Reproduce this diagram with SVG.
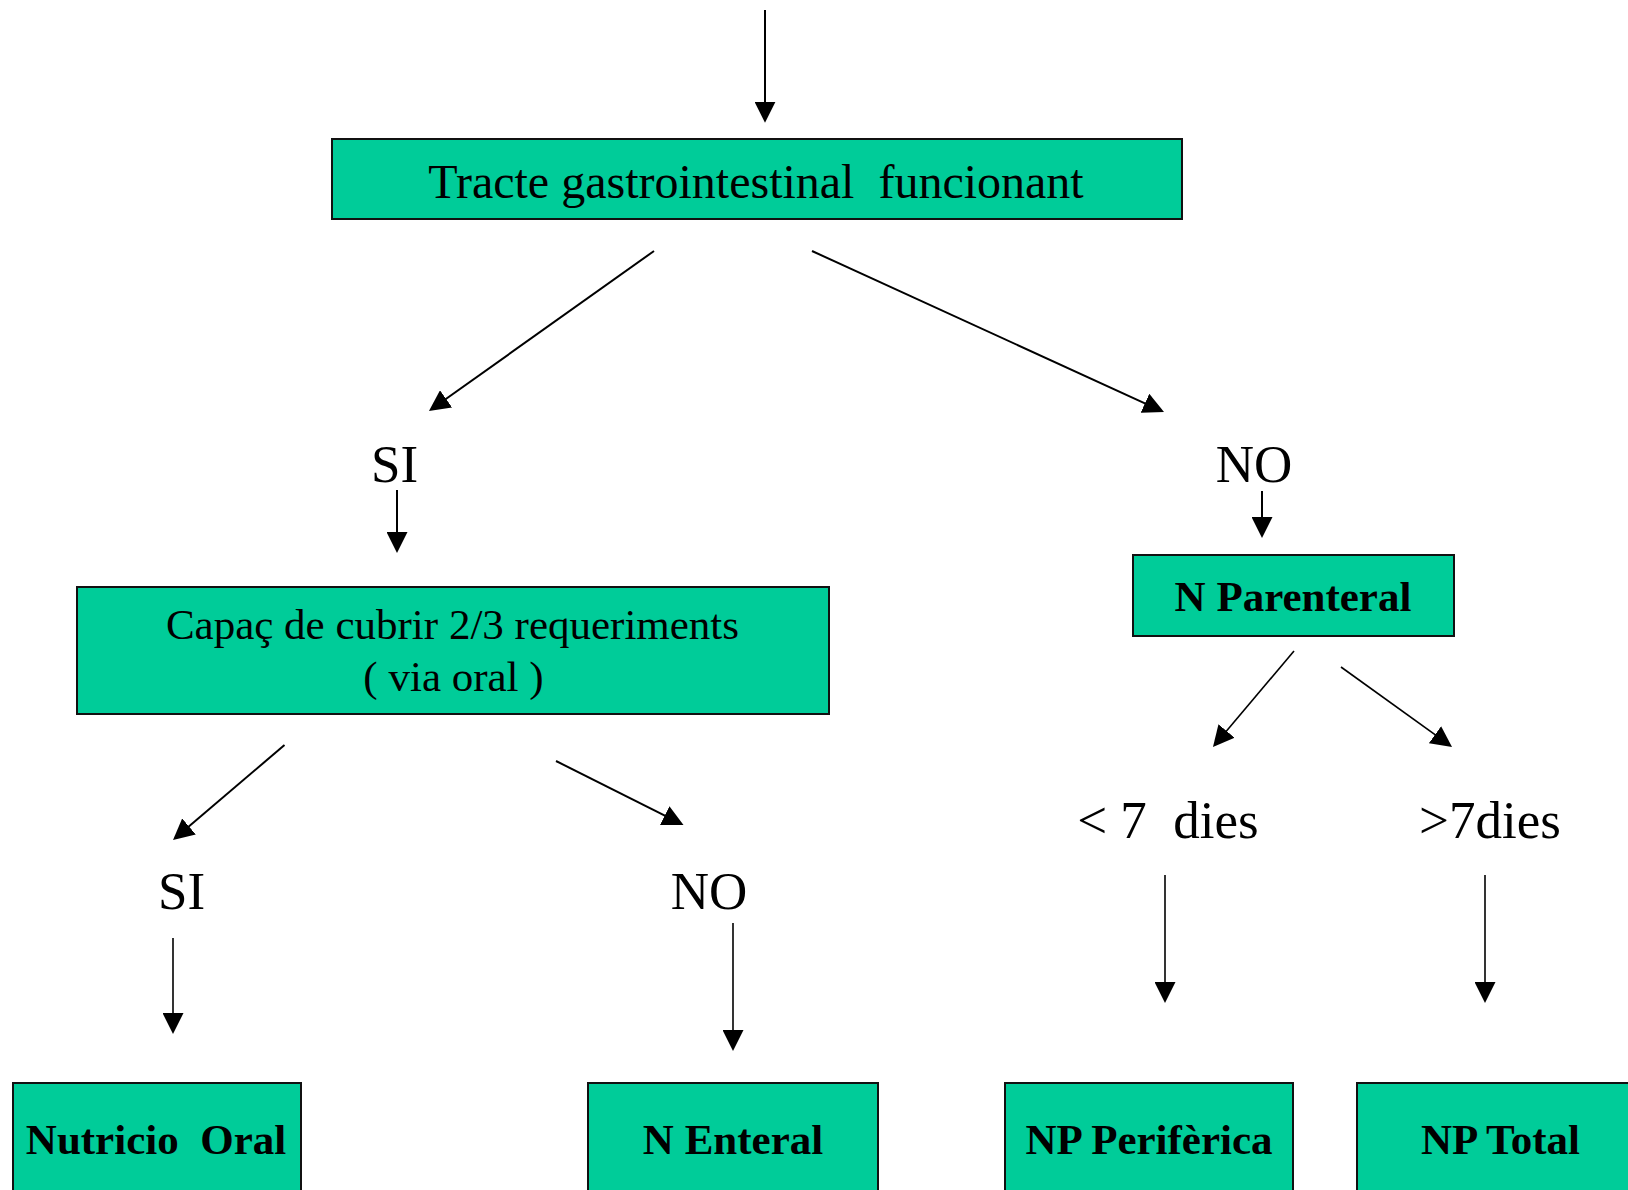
<svg xmlns="http://www.w3.org/2000/svg" width="1628" height="1190" viewBox="0 0 1628 1190">
<style>
.box{fill:#00CC99;stroke:#111;stroke-width:2}
.t{font-family:"Liberation Serif","Times New Roman",serif;fill:#000;text-anchor:middle;white-space:pre}
.n{font-size:48px}
.m{font-size:43px}
.b{font-size:43px;font-weight:bold}
.l{font-size:53px}
.c{stroke:#000;stroke-width:2;fill:none;marker-end:url(#ah)}
.c2{stroke:#000;stroke-width:1.6;fill:none;marker-end:url(#ah)}
</style>
<defs>
<marker id="ah" markerUnits="userSpaceOnUse" markerWidth="21" markerHeight="21" refX="18" refY="10.5" orient="auto" viewBox="0 0 21 21">
<path d="M0,0 L21,10.5 L0,21 z" fill="#000"/>
</marker>
</defs>
<rect width="1628" height="1190" fill="#fff"/>
<g id="connectors">
<line class="c" x1="765" y1="10" x2="765" y2="119.7"/>
<line class="c" x1="654" y1="251" x2="431.4" y2="409.3"/>
<line class="c" x1="812" y1="251" x2="1161.3" y2="410.8"/>
<line class="c" x1="397" y1="490" x2="397" y2="550"/>
<line class="c" x1="1262" y1="491" x2="1262" y2="535"/>
<line class="c" x1="284.5" y1="745" x2="175.3" y2="838.1"/>
<line class="c" x1="556" y1="761" x2="680.8" y2="823.7"/>
<line class="c2" x1="1294" y1="651" x2="1214.9" y2="744.7"/>
<line class="c2" x1="1341" y1="667" x2="1449.6" y2="745.2"/>
<line class="c2" x1="173" y1="938" x2="173" y2="1031"/>
<line class="c2" x1="733" y1="923" x2="733" y2="1048"/>
<line class="c2" x1="1165" y1="875" x2="1165" y2="1000"/>
<line class="c2" x1="1485" y1="875" x2="1485" y2="1000"/>
</g>
<g id="tracte">
<rect class="box" x="332" y="139" width="850" height="80"/>
<text class="t n" x="756" y="198" xml:space="preserve">Tracte gastrointestinal  funcionant</text>
</g>
<g id="si1"><text class="t l" x="394.5" y="482">SI</text></g>
<g id="no1"><text class="t l" x="1254" y="482">NO</text></g>
<g id="capac">
<rect class="box" x="77" y="587" width="752" height="127"/>
<text class="t m" x="452.5" y="639">Capaç de cubrir 2/3 requeriments</text>
<text class="t m" x="453.5" y="691">( via oral )</text>
</g>
<g id="parenteral">
<rect class="box" x="1133" y="555" width="321" height="81"/>
<text class="t b" x="1293" y="611">N Parenteral</text>
</g>
<g id="menys7"><text class="t l" x="1168" y="838" xml:space="preserve">&lt; 7  dies</text></g>
<g id="mes7"><text class="t l" x="1490" y="838">&gt;7dies</text></g>
<g id="si2"><text class="t l" x="181.5" y="909">SI</text></g>
<g id="no2"><text class="t l" x="709" y="909">NO</text></g>
<g id="oral">
<rect class="box" x="13" y="1083" width="288" height="130"/>
<text class="t b" x="156" y="1154" xml:space="preserve">Nutricio  Oral</text>
</g>
<g id="enteral">
<rect class="box" x="588" y="1083" width="290" height="130"/>
<text class="t b" x="733" y="1154">N Enteral</text>
</g>
<g id="periferica">
<rect class="box" x="1005" y="1083" width="288" height="130"/>
<text class="t b" x="1149" y="1154">NP Perifèrica</text>
</g>
<g id="total">
<rect class="box" x="1357" y="1083" width="290" height="130"/>
<text class="t b" x="1500.5" y="1154">NP Total</text>
</g>
</svg>
